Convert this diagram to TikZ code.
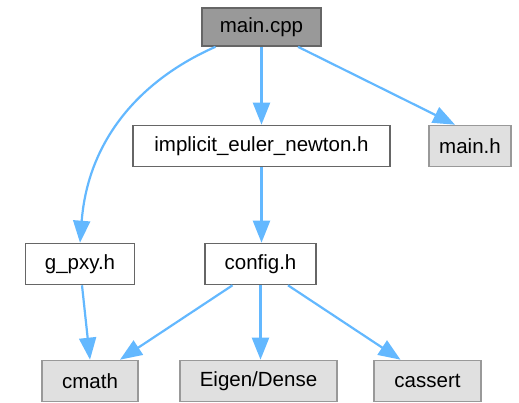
\documentclass[tikz,border=0pt]{standalone}
\usepackage{fontspec}
\setmainfont{Liberation Sans}
\usetikzlibrary{arrows.meta}
\definecolor{edgeblue}{HTML}{63B8FF}
\definecolor{rootfill}{HTML}{999999}
\definecolor{rootline}{HTML}{666666}
\definecolor{sysfill}{HTML}{E0E0E0}
\definecolor{sysline}{HTML}{999999}
\tikzset{
  box/.style={draw=rootline, line width=1.6pt, fill=white, inner sep=0pt,
    minimum height=41pt, font=\fontsize{20.5}{24}\selectfont},
  rootbox/.style={box, fill=rootfill, minimum height=38pt},
  sysbox/.style={box, draw=sysline, fill=sysfill},
  dep/.style={draw=edgeblue, line width=2.2pt,
    -{Triangle[length=22pt,width=17pt]}},
}
\begin{document}
\begin{tikzpicture}[x=1pt,y=-1pt]
\useasboundingbox (0,0) rectangle (519,403);
% files
\node[rootbox, minimum width=119pt] (main) at (261.5,27) {main.cpp};
\node[box, minimum width=257pt] (impl) at (261.5,146) {implicit\_euler\_newton.h};
\node[sysbox, minimum width=82pt] (mainh) at (470,146) {main.h};
\node[box, minimum width=109pt] (gpxy) at (80,264) {g\_pxy.h};
\node[box, minimum width=111pt] (config) at (260.5,264) {config.h};
\node[sysbox, minimum width=96pt] (cmath) at (90,381) {cmath};
\node[sysbox, minimum width=157pt] (eigen) at (258.5,381) {Eigen/Dense};
\node[sysbox, minimum width=107pt] (cassert) at (427.5,381) {cassert};
% include edges
\draw[dep] ([xshift=-46pt]main.south) .. controls (140,80) and (88,140) .. (gpxy.north);
\draw[dep] (main.south) -- (main.south |- impl.north);
\draw[dep] ([xshift=36.5pt]main.south) -- ([xshift=-15pt]mainh.north);
\draw[dep] (impl.south) -- (impl.south |- config.north);
\draw[dep] ([xshift=2pt]gpxy.south) -- (cmath.north);
\draw[dep] ([xshift=-28pt]config.south) -- ([xshift=30pt]cmath.north);
\draw[dep] (config.south) -- (config.south |- eigen.north);
\draw[dep] ([xshift=27.5pt]config.south) -- ([xshift=-27pt]cassert.north);
\end{tikzpicture}
\end{document}
